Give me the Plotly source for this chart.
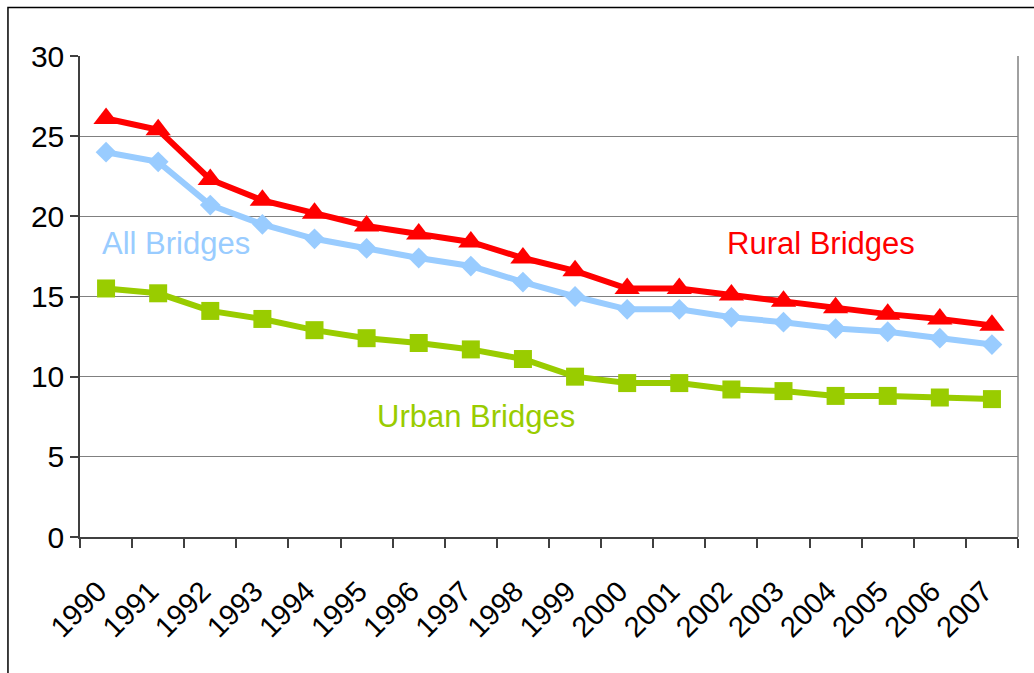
import plotly.graph_objects as go

years = [str(y) for y in range(1990, 2008)]
rural = [26.1, 25.4, 22.3, 21.0, 20.2, 19.4, 18.9, 18.4, 17.4, 16.6, 15.5, 15.5, 15.1, 14.7, 14.3, 13.9, 13.6, 13.2]
all_bridges = [24.0, 23.4, 20.7, 19.5, 18.6, 18.0, 17.4, 16.9, 15.9, 15.0, 14.2, 14.2, 13.7, 13.4, 13.0, 12.8, 12.4, 12.0]
urban = [15.5, 15.2, 14.1, 13.6, 12.9, 12.4, 12.1, 11.7, 11.1, 10.0, 9.6, 9.6, 9.2, 9.1, 8.8, 8.8, 8.7, 8.6]
y_ticks = [0, 5, 10, 15, 20, 25, 30]

RED = "#FF0000"
BLUE = "#99CCFF"
GREEN = "#99CC00"
LABEL_FONT = "Arial, Liberation Sans, sans-serif"

fig = go.Figure()
fig.add_trace(go.Scatter(x=years, y=urban, mode="lines+markers", name="Urban Bridges",
                         line=dict(color=GREEN, width=6),
                         marker=dict(symbol="square", size=18, color=GREEN)))
fig.add_trace(go.Scatter(x=years, y=all_bridges, mode="lines+markers", name="All Bridges",
                         line=dict(color=BLUE, width=6),
                         marker=dict(symbol="diamond", size=16, color=BLUE)))
fig.add_trace(go.Scatter(x=years, y=rural, mode="lines+markers", name="Rural Bridges",
                         line=dict(color=RED, width=6),
                         marker=dict(symbol="triangle-up", size=22, color=RED)))

fig.update_layout(
    width=1034, height=673,
    margin=dict(l=80, r=16, t=56, b=136, autoexpand=False),
    paper_bgcolor="white", plot_bgcolor="white",
    showlegend=False,
    font=dict(family="Arial, Liberation Sans, sans-serif", color="black"),
    xaxis=dict(type="category", tickson="boundaries", ticks="outside", ticklen=9,
               tickcolor="#404040", tickwidth=1.5,
               showline=True, linecolor="#404040", linewidth=1.5,
               showgrid=False, tickangle=-45, tickfont=dict(size=29),
               ticklabelstandoff=24, ticklabelshift=-8, automargin=False,
               range=[-0.5, 17.5]),
    yaxis=dict(range=[0, 30], tickvals=y_ticks, ticks="outside", ticklen=8,
               tickcolor="#404040", tickwidth=1.5,
               showline=True, linecolor="#404040", linewidth=1.5,
               showgrid=True, gridcolor="#808080", gridwidth=1,
               zeroline=False, tickfont=dict(size=30), automargin=False),
    shapes=[
        dict(type="line", xref="paper", yref="paper", x0=1, x1=1, y0=0, y1=1,
             line=dict(color="#808080", width=1.5)),
        dict(type="rect", xref="paper", yref="paper",
             x0=-0.0768, x1=1.03, y0=-0.3, y1=1.1008,
             line=dict(color="black", width=1.5)),
    ],
    annotations=[
        dict(x=-0.12, y=18.3, xref="x", yref="y", text="All Bridges", showarrow=False,
             xanchor="left", yanchor="middle", font=dict(family=LABEL_FONT, size=31, color=BLUE)),
        dict(x=11.88, y=18.3, xref="x", yref="y", text="Rural Bridges", showarrow=False,
             xanchor="left", yanchor="middle", font=dict(family=LABEL_FONT, size=31, color=RED)),
        dict(x=5.16, y=7.5, xref="x", yref="y", text="Urban Bridges", showarrow=False,
             xanchor="left", yanchor="middle", font=dict(family=LABEL_FONT, size=31, color=GREEN)),
    ],
)

fig.write_html("out.html", config={"displayModeBar": False},
               post_script="document.body.style.margin='0';")
